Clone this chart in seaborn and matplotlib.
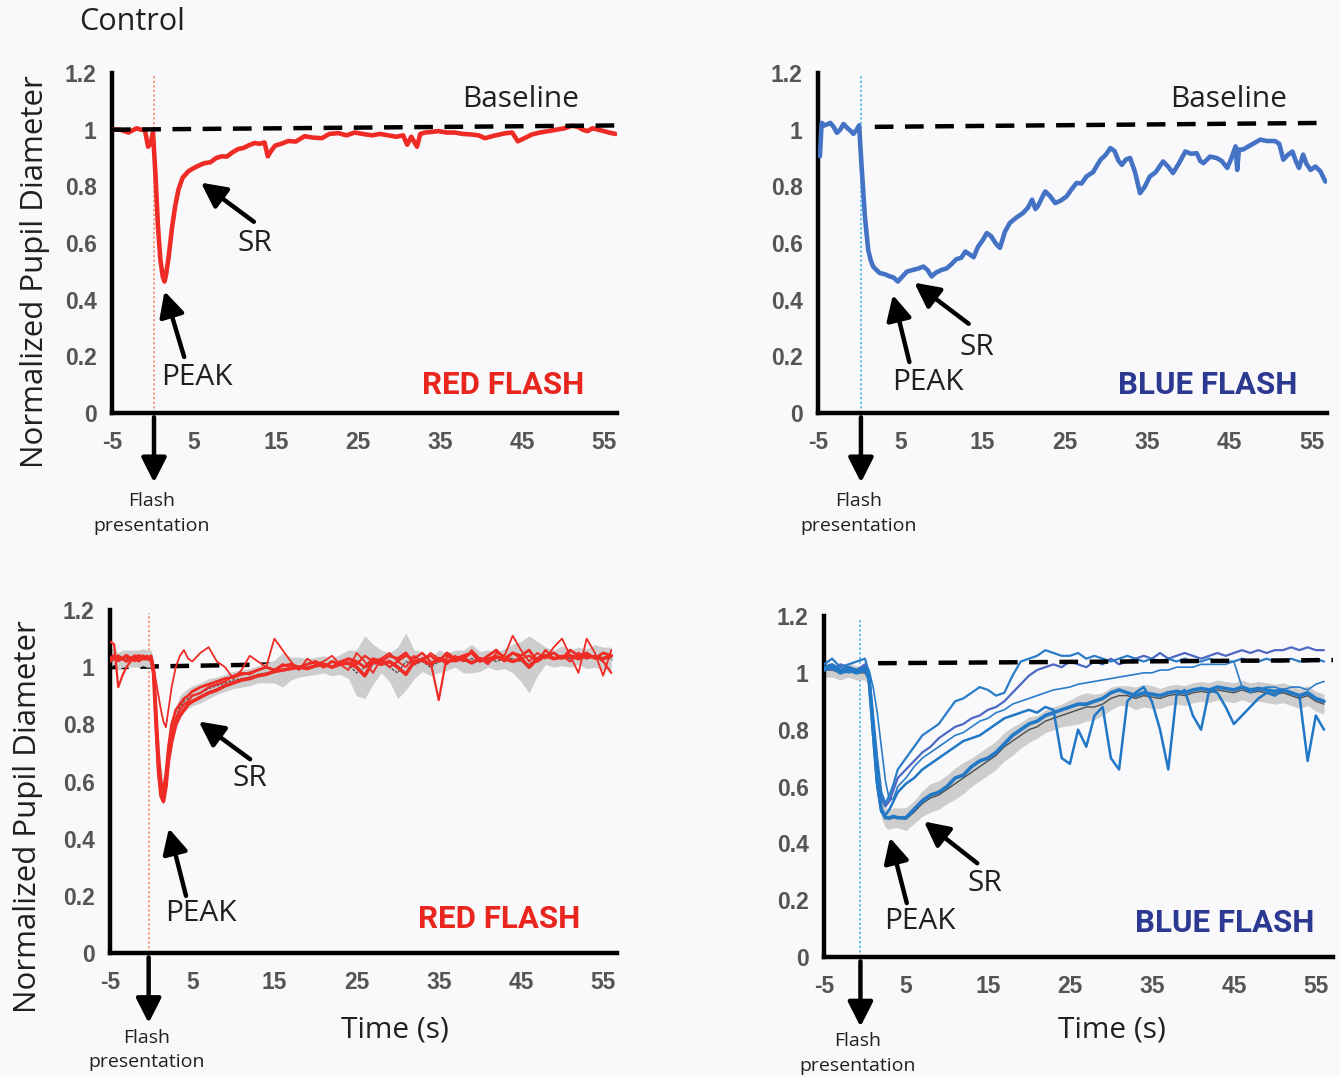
import seaborn as sns
import matplotlib.pyplot as plt

sns.set_style('white')
plt.rcParams['font.family'] = ['Open Sans', 'DejaVu Sans']

# ---- values ----
x_ticks = [-5, 5, 15, 25, 35, 45, 55]
x_tick_labels = ['-5', '5', '15', '25', '35', '45', '55']
y_ticks = [0, 0.2, 0.4, 0.6, 0.8, 1.0, 1.2]
y_tick_labels = ['0', '0.2', '0.4', '0.6', '0.8', '1', '1.2']

# top left: control, red flash
red_t = [-5, -4, -3, -2, -1.5, -1, -0.6, -0.3, 0, 0.3,
         0.6, 0.9, 1.2, 1.4, 1.6, 1.9, 2.3, 2.7, 3.1, 3.6,
         4.3, 5, 5.7, 6.3, 7, 7.7, 8.4, 9, 9.7, 10.4,
         11, 11.7, 12.4, 13, 13.6, 14, 14.4, 14.9, 15.6, 16.5,
         17.4, 18.5, 19.5, 20.6, 21.5, 22.6, 23.6, 24.6, 25.6, 26.7,
         27.7, 28.7, 29.7, 30.5, 31, 31.5, 32.2, 32.6, 33.2, 34,
         34.8, 35.8, 36.8, 37.8, 38.9, 39.7, 40.5, 41.5, 42.9, 43.8,
         44.5, 45.3, 46.2, 47.2, 48.2, 49.2, 50.2, 51.1, 51.8, 52.4,
         53, 53.6, 54.3, 55, 55.6, 56.4]
red_v = [1.0, 1.0, 0.99, 1.005, 1.0, 1.0, 0.94, 0.95, 0.99, 0.84,
         0.66, 0.54, 0.48, 0.464, 0.49, 0.55, 0.65, 0.73, 0.788, 0.83,
         0.853, 0.865, 0.875, 0.882, 0.885, 0.9, 0.906, 0.905, 0.92, 0.932,
         0.935, 0.945, 0.953, 0.95, 0.955, 0.906, 0.925, 0.944, 0.95, 0.96,
         0.958, 0.977, 0.972, 0.97, 0.985, 0.988, 0.98, 0.99, 0.985, 0.98,
         0.985, 0.98, 0.975, 0.98, 0.947, 0.975, 0.94, 0.985, 0.99, 0.992,
         0.995, 0.99, 0.99, 0.985, 0.983, 0.98, 0.97, 0.978, 0.987, 0.99,
         0.959, 0.97, 0.983, 0.99, 0.995, 1.0, 1.005, 1.014, 1.01, 1.0,
         0.995, 1.005, 1.0, 0.995, 0.99, 0.985]

# top right: control, blue flash
blue_t = [-4.76, -4.55, -4.2, -3.8, -3.5, -3.1, -2.7, -2.3, -1.9, -1.4,
          -1.0, -0.7, -0.3, 0.0, 0.3, 0.7, 1.1, 1.4, 1.7, 2.1,
          2.5, 3.1, 3.75, 4.2, 4.7, 5.2, 5.8, 6.5, 7.2, 7.8,
          8.3, 8.8, 9.3, 10.0, 10.6, 11.2, 11.8, 12.4, 12.9, 13.4,
          13.9, 14.4, 15.0, 15.5, 16.0, 16.6, 17.1, 17.7, 18.3, 19.1,
          19.9, 20.5, 21.0, 21.4, 21.7, 22.2, 22.6, 23.2, 23.8, 24.5,
          25.2, 25.8, 26.4, 27.0, 27.6, 28.4, 29.3, 29.9, 30.5, 31.0,
          31.5, 31.9, 32.4, 32.9, 33.5, 34.1, 34.7, 35.3, 36.0, 36.9,
          37.5, 38.1, 38.8, 39.6, 40.3, 41.0, 41.4, 41.8, 42.6, 43.4,
          44.0, 44.7, 45.2, 45.7, 45.9, 46.1, 46.6, 47.5, 48.7, 49.5,
          50.5, 51.0, 51.5, 52.0, 52.6, 53.0, 53.4, 53.9, 54.3, 54.8,
          55.4, 56.0, 56.6]
blue_v = [0.906, 1.024, 1.015, 1.02, 1.024, 1.01, 0.989, 1.0, 1.02, 1.005,
          0.995, 0.985, 1.0, 1.015, 0.87, 0.694, 0.576, 0.54, 0.517, 0.505,
          0.494, 0.49, 0.482, 0.478, 0.464, 0.48, 0.499, 0.505, 0.51, 0.517,
          0.505, 0.482, 0.495, 0.505, 0.51, 0.525, 0.543, 0.548, 0.57, 0.56,
          0.55, 0.585, 0.61, 0.635, 0.625, 0.598, 0.583, 0.64, 0.671, 0.69,
          0.706, 0.725, 0.753, 0.72, 0.73, 0.76, 0.782, 0.765, 0.741, 0.75,
          0.765, 0.79, 0.812, 0.81, 0.835, 0.85, 0.894, 0.91, 0.935, 0.925,
          0.89, 0.876, 0.895, 0.9, 0.85, 0.776, 0.8, 0.835, 0.85, 0.888,
          0.87, 0.847, 0.88, 0.923, 0.915, 0.917, 0.89, 0.882, 0.905, 0.9,
          0.89, 0.865, 0.9, 0.941, 0.858, 0.93, 0.93, 0.945, 0.965, 0.96,
          0.96, 0.95, 0.894, 0.91, 0.923, 0.89, 0.865, 0.912, 0.88, 0.858,
          0.87, 0.853, 0.817]

# bottom left: individual red flash traces
rm_t = [-5, -4.5, -4, -3.5, -3, -2.5, -2, -1.5, -1, -0.5, 0,
        0.3, 0.6, 0.9, 1.2, 1.5, 1.8, 2.1,
        2.5, 3, 3.5, 4, 4.5, 5,
        6, 7, 8, 9, 10, 11, 12, 13, 14, 15,
        16, 17, 18, 19, 20, 21, 22, 23, 24, 25,
        26, 27, 28, 29, 30, 31, 32, 33, 34, 35,
        36, 37, 38, 39, 40, 41, 42, 43, 44, 45,
        46, 47, 48, 49, 50, 51, 52, 53, 54, 55,
        56]
rm_a = [1.03, 1.04, 1.03, 1.03, 1.04, 1.03, 1.03, 1.04, 1.03, 1.03, 1.03,
        0.98, 0.80, 0.64, 0.55, 0.53, 0.58, 0.67,
        0.74, 0.80, 0.83, 0.85, 0.87, 0.88,
        0.895, 0.91, 0.92, 0.935, 0.945, 0.955, 0.96, 0.97, 0.975, 0.985,
        0.99, 0.995, 1.0, 0.995, 1.005, 1.01, 1.0, 1.01, 1.015, 1.0,
        0.97, 1.02, 1.01, 1.02, 1.0, 0.975, 1.02, 1.025, 1.01, 1.03,
        1.02, 1.025, 1.03, 1.015, 1.03, 1.02, 1.035, 1.03, 1.02, 1.03,
        1.0, 1.03, 1.04, 1.03, 1.035, 1.04, 1.03, 1.04, 1.035, 1.03,
        1.04]
rm_b = [1.02, 1.03, 1.04, 1.03, 1.02, 1.03, 1.04, 1.03, 1.04, 1.03, 1.04,
        1.0, 0.86, 0.70, 0.60, 0.57, 0.63, 0.72,
        0.80, 0.85, 0.87, 0.89, 0.90, 0.915,
        0.93, 0.94, 0.95, 0.96, 0.965, 0.975, 0.98, 0.99, 1.0, 0.99,
        1.005, 1.01, 1.0, 1.01, 1.02, 1.0, 1.02, 1.01, 1.03, 1.02,
        1.0, 1.03, 1.02, 1.04, 1.03, 1.05, 1.01, 1.03, 1.04, 1.02,
        1.05, 1.03, 1.04, 1.05, 1.02, 1.04, 1.06, 1.03, 1.05, 1.04,
        1.06, 1.02, 1.04, 1.05, 1.03, 1.06, 1.04, 1.05, 1.03, 1.05,
        1.04]
rm_c = [1.03, 1.03, 1.02, 1.03, 1.04, 1.03, 1.02, 1.03, 1.04, 1.03, 1.02,
        1.0, 0.95, 0.90, 0.85, 0.81, 0.79, 0.85,
        0.93, 1.0, 1.04, 1.06, 1.03, 1.02,
        1.05, 1.07, 1.02, 1.0, 0.96, 0.99, 1.04, 1.02, 1.0, 1.10,
        1.06, 1.02, 0.99, 1.03, 1.01, 1.02, 1.04, 1.01, 0.99, 1.05,
        1.02, 0.98, 1.03, 1.05, 1.02, 1.0, 1.04, 1.02, 1.05, 1.03,
        1.01, 1.04, 1.02, 1.06, 1.03, 1.01, 1.05, 1.04, 1.11, 1.06,
        1.02, 1.05, 1.03, 1.07, 1.1, 1.04, 0.98, 1.1, 1.05, 0.97,
        1.06]
rm_d = [1.09, 1.08, 0.93, 0.97, 1.0, 1.02, 1.03, 1.02, 1.03, 1.04, 1.03,
        0.97, 0.78, 0.62, 0.55, 0.56, 0.62, 0.70,
        0.77, 0.82, 0.85, 0.87, 0.88, 0.90,
        0.91, 0.93, 0.94, 0.95, 0.97, 0.98, 0.975, 0.99, 1.0, 0.99,
        1.01, 1.0, 0.995, 1.01, 1.02, 1.01, 1.0, 1.02, 1.03, 1.01,
        1.04, 1.02, 1.03, 1.0, 1.02, 1.04, 1.03, 1.05, 1.02, 0.885,
        1.04, 1.02, 1.03, 1.05, 1.02, 1.03, 1.04, 1.02, 1.05, 1.03,
        1.04, 1.02, 1.06, 1.03, 1.04, 1.02, 1.05, 1.03, 1.04, 1.02,
        0.98]
rm_mean = [1.03, 1.04, 1.02, 1.03, 1.03, 1.03, 1.03, 1.03, 1.035, 1.03, 1.03,
           0.99, 0.84, 0.70, 0.60, 0.56, 0.60, 0.68,
           0.76, 0.82, 0.86, 0.88, 0.89, 0.90,
           0.91, 0.925, 0.935, 0.945, 0.955, 0.96, 0.965, 0.975, 0.98, 0.985,
           0.99, 0.995, 1.0, 1.0, 1.005, 1.01, 1.0, 1.01, 1.01, 0.98,
           1.0, 1.01, 1.02, 1.0, 0.98, 1.02, 1.01, 1.02, 1.0, 1.02,
           1.02, 1.03, 1.02, 1.03, 1.02, 1.03, 1.02, 1.03, 1.03, 1.02,
           1.01, 1.03, 1.04, 1.03, 1.04, 1.03, 1.04, 1.03, 1.04, 1.03,
           1.03]
rm_err = [0.03, 0.03, 0.03, 0.03, 0.03, 0.03, 0.03, 0.03, 0.03, 0.03, 0.03,
          0.03, 0.04, 0.05, 0.05, 0.04, 0.04, 0.04,
          0.04, 0.04, 0.04, 0.035, 0.035, 0.035,
          0.035, 0.035, 0.03, 0.03, 0.03, 0.03, 0.03, 0.03, 0.035, 0.04,
          0.06, 0.04, 0.035, 0.03, 0.03, 0.03, 0.03, 0.035, 0.05, 0.08,
          0.11, 0.07, 0.04, 0.05, 0.09, 0.10, 0.05, 0.035, 0.03, 0.04,
          0.03, 0.03, 0.04, 0.05, 0.035, 0.03, 0.03, 0.035, 0.05, 0.07,
          0.10, 0.06, 0.03, 0.03, 0.035, 0.03, 0.03, 0.035, 0.04, 0.04,
          0.04]

# bottom right: individual blue flash traces
bm_t = [-5, -4, -3, -2, -1, 0,
        0.5, 1, 1.5, 2, 2.5, 3, 3.5, 4,
        5, 6, 7, 8, 9, 10, 11, 12, 13, 14,
        15, 16, 17, 18, 19, 20, 21, 22, 23, 24,
        25, 26, 27, 28, 29, 30, 31, 32, 33, 34,
        35, 36, 37, 38, 39, 40, 41, 42, 43, 44,
        45, 46, 47, 48, 49, 50, 51, 52, 53, 54,
        55, 56]
bm_a = [1.01, 1.02, 1.0, 1.01, 1.0, 1.01,
        0.98, 0.80, 0.62, 0.52, 0.49, 0.49, 0.495, 0.49,
        0.49, 0.52, 0.55, 0.57, 0.58, 0.60, 0.63, 0.64, 0.67, 0.69,
        0.70, 0.72, 0.75, 0.78, 0.80, 0.82, 0.83, 0.85, 0.86, 0.87,
        0.88, 0.89, 0.89, 0.90, 0.91, 0.93, 0.94, 0.93, 0.92, 0.93,
        0.925, 0.92, 0.93, 0.935, 0.93, 0.94, 0.945, 0.94, 0.95, 0.945,
        0.94, 0.95, 0.94, 0.945, 0.94, 0.935, 0.94, 0.93, 0.92, 0.93,
        0.91, 0.90]
bm_b = [1.02, 1.03, 1.01, 1.02, 1.01, 1.02,
        0.97, 0.78, 0.60, 0.51, 0.50, 0.52, 0.55, 0.58,
        0.61, 0.63, 0.66, 0.68, 0.70, 0.72, 0.74, 0.76, 0.77, 0.78,
        0.80, 0.82, 0.84, 0.85, 0.86, 0.87, 0.86, 0.88, 0.87, 0.70,
        0.68, 0.80, 0.74, 0.85, 0.88, 0.70, 0.66, 0.90, 0.93, 0.95,
        0.90, 0.80, 0.66, 0.92, 0.94, 0.85, 0.80, 0.94, 0.93, 0.88,
        0.82, 0.85, 0.88, 0.91, 0.93, 0.92, 0.94, 0.93, 0.92, 0.69,
        0.85, 0.80]
bm_c = [1.03, 1.05, 1.02, 1.03, 1.04, 1.05,
        1.0, 0.85, 0.70, 0.58, 0.54, 0.57, 0.61, 0.66,
        0.70, 0.74, 0.78, 0.80, 0.82, 0.86, 0.90, 0.91, 0.93, 0.95,
        0.94, 0.92, 0.93, 0.99, 1.04, 1.05, 1.06, 1.08, 1.07, 1.06,
        1.06, 1.07, 1.05, 1.06, 1.05, 1.04, 1.05, 1.06, 1.05, 1.04,
        1.05, 1.04, 1.05, 1.04, 1.05, 1.04, 1.04, 1.05, 1.04, 1.04,
        1.04, 1.05, 1.04, 1.04, 1.05, 1.04, 1.04, 1.05, 1.04, 1.04,
        1.05, 1.04]
bm_d = [1.02, 1.01, 1.03, 1.02, 1.01, 1.03,
        0.99, 0.82, 0.66, 0.56, 0.53, 0.55, 0.59, 0.63,
        0.66, 0.69, 0.72, 0.74, 0.77, 0.79, 0.81, 0.82, 0.84, 0.85,
        0.87, 0.88, 0.90, 0.93, 0.96, 0.99, 1.01, 1.02, 1.03, 1.02,
        1.04, 1.03, 1.02, 1.04, 1.03, 1.05, 1.03, 1.04, 1.05, 1.06,
        1.05, 1.07, 1.05, 1.06, 1.07, 1.06, 1.05, 1.06, 1.07, 1.06,
        1.07, 1.08, 1.07, 1.08, 1.07, 1.08, 1.08, 1.09, 1.08, 1.09,
        1.08, 1.08]
bm_e = [1.01, 1.02, 1.01, 1.0, 1.01, 1.02,
        1.01, 0.95, 0.86, 0.74, 0.62, 0.55, 0.56, 0.60,
        0.63, 0.67, 0.70, 0.72, 0.74, 0.76, 0.78, 0.79, 0.81, 0.83,
        0.84, 0.86, 0.87, 0.89, 0.90, 0.91, 0.92, 0.93, 0.94, 0.945,
        0.95, 0.96, 0.965, 0.97, 0.975, 0.98, 0.985, 0.99, 0.995, 1.0,
        1.0, 1.01, 1.01, 1.02, 1.02, 1.02, 1.03, 1.03, 1.03, 1.03,
        1.04, 0.95, 0.93, 0.94, 0.95, 0.95, 0.94, 0.95, 0.95, 0.94,
        0.96, 0.97]
bm_mean = [1.01, 1.01, 1.0, 1.01, 1.0, 1.0,
           0.98, 0.80, 0.62, 0.52, 0.49, 0.485, 0.49, 0.49,
           0.485, 0.51, 0.54, 0.56, 0.57, 0.59, 0.61, 0.63, 0.65, 0.67,
           0.69, 0.71, 0.74, 0.76, 0.78, 0.80, 0.81, 0.83, 0.84, 0.85,
           0.86, 0.87, 0.88, 0.88, 0.89, 0.91, 0.92, 0.92, 0.91, 0.92,
           0.915, 0.91, 0.92, 0.925, 0.92, 0.93, 0.935, 0.93, 0.94, 0.935,
           0.93, 0.94, 0.93, 0.935, 0.93, 0.925, 0.93, 0.92, 0.91, 0.92,
           0.90, 0.89]
bm_err = [0.025, 0.025, 0.025, 0.025, 0.025, 0.025,
          0.03, 0.03, 0.03, 0.03, 0.035, 0.035, 0.035, 0.035,
          0.04, 0.04, 0.045, 0.05, 0.05, 0.05, 0.055, 0.055, 0.05, 0.05,
          0.05, 0.05, 0.05, 0.05, 0.045, 0.045, 0.04, 0.04, 0.04, 0.04,
          0.045, 0.05, 0.05, 0.045, 0.04, 0.04, 0.035, 0.035, 0.04, 0.04,
          0.04, 0.035, 0.035, 0.035, 0.035, 0.035, 0.035, 0.035, 0.035, 0.035,
          0.035, 0.035, 0.035, 0.035, 0.035, 0.035, 0.035, 0.035, 0.035, 0.035,
          0.035, 0.035]

# baselines (start/end times and levels) and flash times per panel
base_t = [[-5, 56.6], [1.9, 56.8], [-5, 56.7], [1.6, 57.1]]
base_v = [[1.0, 1.015], [1.01, 1.024], [1.0, 1.03], [1.034, 1.045]]
flash_t = [0.12, 0.22, -0.3, -0.55]

BG = '#f9f9fb'
RED = '#ee2b24'
TICK_FONT = 'Liberation Sans'
FLASH_FONT = 'Roboto'

fig = plt.figure(figsize=(13.4, 10.77), dpi=100, facecolor=BG)


def make_axis(rect, xmax):
    ax = fig.add_axes(rect)
    ax.set_facecolor(BG)
    ax.set_xlim(-5, xmax)
    ax.set_ylim(0, 1.2)
    for s in ['top', 'right']:
        ax.spines[s].set_visible(False)
    for s in ['left', 'bottom']:
        ax.spines[s].set_linewidth(3.2)
        ax.spines[s].set_color('black')
    ax.set_xticks(x_ticks)
    ax.set_xticklabels(x_tick_labels, fontweight='bold', family=TICK_FONT,
                       fontsize=16.5, color='#555555')
    ax.set_yticks(y_ticks)
    ax.set_yticklabels(y_tick_labels, fontweight='bold', family=TICK_FONT,
                       fontsize=16.5, color='#555555')
    ax.tick_params(axis='x', direction='out', length=6, width=3, color='black', pad=7)
    ax.tick_params(axis='y', direction='out', length=6, width=3, color='black', pad=5)
    return ax


def pointer(ax, label, text_xy, tail, tip):
    ax.text(text_xy[0], text_xy[1], label, ha='center', va='center',
            fontsize=21.5, color='#231f20')
    ax.annotate('', xy=tip, xytext=tail,
                arrowprops=dict(arrowstyle='-|>,head_length=0.75,head_width=0.38',
                                color='black', lw=3.2, shrinkA=0, shrinkB=0,
                                mutation_scale=20))


def flash(ax, t, color, text_y):
    ax.plot([t, t], [0, 1.19], color=color, lw=1.1, ls=(0, (1.5, 1.5)), zorder=1)
    ax.annotate('', xy=(t, -0.245), xytext=(t, -0.015), annotation_clip=False,
                arrowprops=dict(arrowstyle='-|>,head_length=0.75,head_width=0.38',
                                color='black', lw=3.2, shrinkA=0, shrinkB=0,
                                mutation_scale=20))
    ax.text(t - 0.3, text_y, 'Flash\npresentation', ha='center', va='center',
            fontsize=14, linespacing=1.45, color='#231f20', clip_on=False)


def baseline(ax, i, z):
    ax.plot(base_t[i], base_v[i], color='black', lw=3.2, ls=(0, (4.2, 2.6)), zorder=z)


def flash_label(ax, x, y, text, color):
    ax.text(x, y, text, ha='center', va='center', fontsize=22.5,
            fontweight='bold', family=FLASH_FONT, color=color)


# ---- top left ----
ax1 = make_axis([0.0836, 0.6165, 0.3769, 0.3157], 56.6)
flash(ax1, flash_t[0], '#f4845f', -0.355)
sns.lineplot(x=red_t, y=red_v, ax=ax1, color=RED, lw=3.3, zorder=3)
baseline(ax1, 0, 4)
ax1.text(44.8, 1.106, 'Baseline', ha='center', va='center', fontsize=21.5, color='#231f20')
pointer(ax1, 'SR', (12.4, 0.60), (12.3, 0.675), (5.85, 0.813))
pointer(ax1, 'PEAK', (5.4, 0.124), (3.8, 0.198), (1.4, 0.43))
flash_label(ax1, 42.7, 0.10, 'RED FLASH', '#e8261e')

# ---- top right ----
ax2 = make_axis([0.6104, 0.6165, 0.3799, 0.3157], 56.8)
flash(ax2, flash_t[1], '#38b0e8', -0.355)
sns.lineplot(x=blue_t, y=blue_v, ax=ax2, color='#4472c4', lw=3.3, zorder=3)
baseline(ax2, 1, 4)
ax2.text(44.8, 1.106, 'Baseline', ha='center', va='center', fontsize=21.5, color='#231f20')
pointer(ax2, 'SR', (14.3, 0.23), (13.3, 0.315), (6.7, 0.46))
pointer(ax2, 'PEAK', (8.4, 0.106), (6.1, 0.18), (4.1, 0.417))
flash_label(ax2, 42.3, 0.099, 'BLUE FLASH', '#2b3990')

# ---- bottom left ----
ax3 = make_axis([0.0821, 0.1151, 0.3784, 0.3185], 56.7)
flash(ax3, flash_t[2], '#f4845f', -0.34)
baseline(ax3, 2, 2)
lo = [m - e for m, e in zip(rm_mean, rm_err)]
hi = [m + e for m, e in zip(rm_mean, rm_err)]
ax3.fill_between(rm_t, lo, hi, color='#cdcdcd', lw=0, zorder=2)
sns.lineplot(x=rm_t, y=rm_mean, ax=ax3, color='#4d4d4d', lw=1.0, ls=(0, (2, 1)), zorder=3)
for trace, lw in [(rm_d, 1.6), (rm_c, 1.3), (rm_b, 2.0), (rm_a, 2.6)]:
    sns.lineplot(x=rm_t, y=trace, ax=ax3, color=RED, lw=lw, zorder=4)
pointer(ax3, 'SR', (12.05, 0.61), (12.05, 0.678), (5.8, 0.81))
pointer(ax3, 'PEAK', (6.0, 0.137), (4.25, 0.2), (2.16, 0.436))
flash_label(ax3, 42.3, 0.12, 'RED FLASH', '#e8261e')

# ---- bottom right ----
ax4 = make_axis([0.6149, 0.1114, 0.3799, 0.3166], 57.1)
flash(ax4, flash_t[3], '#38b0e8', -0.34)
lo = [m - e for m, e in zip(bm_mean, bm_err)]
hi = [m + e for m, e in zip(bm_mean, bm_err)]
ax4.fill_between(bm_t, lo, hi, color='#cdcdcd', lw=0, zorder=2)
sns.lineplot(x=bm_t, y=bm_mean, ax=ax4, color='#4d4d4d', lw=1.0, zorder=3)
for trace, col, lw in [(bm_e, '#2a7cc8', 1.2), (bm_d, '#4d68c2', 1.6),
                       (bm_c, '#2a7cc8', 1.6), (bm_b, '#1f77c6', 1.8),
                       (bm_a, '#2479c7', 2.6)]:
    sns.lineplot(x=bm_t, y=trace, ax=ax4, color=col, lw=lw, zorder=4)
baseline(ax4, 3, 5)
pointer(ax4, 'SR', (14.6, 0.26), (13.7, 0.33), (7.2, 0.477))
pointer(ax4, 'PEAK', (6.7, 0.124), (5.1, 0.19), (3.05, 0.42))
flash_label(ax4, 43.9, 0.12, 'BLUE FLASH', '#2b3990')

# ---- shared labels ----
fig.text(132 / 1340, 1 - 22 / 1077, 'Control', ha='center', va='center',
         fontsize=22, color='#231f20')
fig.text(35 / 1340, 1 - 272 / 1077, 'Normalized Pupil Diameter', rotation=90,
         ha='center', va='center', fontsize=22.5, color='#231f20')
fig.text(28 / 1340, 1 - 817 / 1077, 'Normalized Pupil Diameter', rotation=90,
         ha='center', va='center', fontsize=22.5, color='#231f20')
fig.text(395 / 1340, 1 - 1030 / 1077, 'Time (s)', ha='center', va='center',
         fontsize=21.5, color='#231f20')
fig.text(1112 / 1340, 1 - 1030 / 1077, 'Time (s)', ha='center', va='center',
         fontsize=21.5, color='#231f20')

fig.savefig('out.png', dpi=100, facecolor=BG)
